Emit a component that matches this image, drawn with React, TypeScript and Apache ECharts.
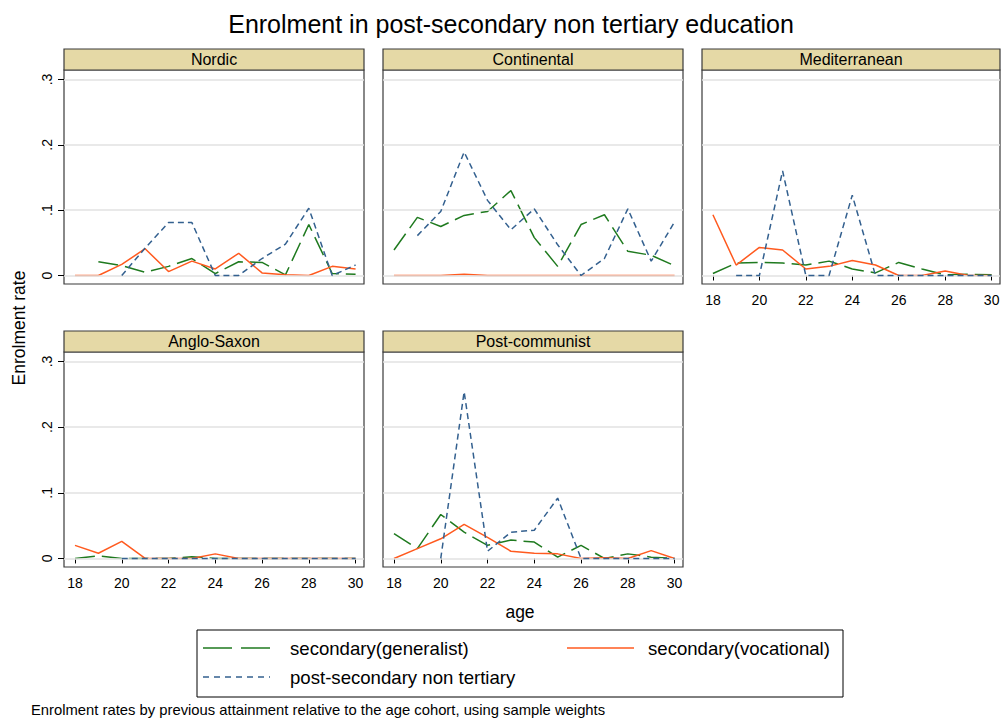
import React, { useEffect, useRef } from "react";
import * as echarts from "echarts";

const ages = [18, 19, 20, 21, 22, 23, 24, 25, 26, 27, 28, 29, 30];
const tickAges = [18, 20, 22, 24, 26, 28, 30];
const yTicks = [0, 0.1, 0.2, 0.3];
const regions = ["Nordic", "Continental", "Mediterranean", "Anglo-Saxon", "Post-communist"];
const seriesNames = ["secondary(generalist)", "secondary(vocational)", "post-secondary non tertiary"];

const nordicGen = [null, 0.021, 0.015, 0.005, 0.014, 0.026, 0.003, 0.021, 0.02, 0.001, 0.078, 0.003, 0.002];
const nordicVoc = [0, 0, 0.017, 0.041, 0.006, 0.022, 0.01, 0.034, 0.004, 0.001, 0, 0.014, 0.01];
const nordicPost = [null, null, 0, 0.042, 0.081, 0.081, 0, 0, 0.026, 0.048, 0.103, 0, 0.016];

const continentalGen = [0.039, 0.089, 0.075, 0.092, 0.098, 0.13, 0.058, 0.014, 0.078, 0.093, 0.037, 0.031, 0.015];
const continentalVoc = [0, 0, 0, 0.002, 0, 0, 0, 0, 0, 0, 0, 0, 0];
const continentalPost = [null, 0.061, 0.098, 0.189, 0.115, 0.07, 0.102, 0.047, 0, 0.026, 0.102, 0.022, 0.082];

const mediterraneanGen = [0.003, 0.019, 0.02, 0.019, 0.016, 0.022, 0.01, 0.004, 0.02, 0.01, 0.001, 0.002, 0.001];
const mediterraneanVoc = [0.093, 0.016, 0.043, 0.039, 0.01, 0.014, 0.023, 0.016, 0, 0, 0.007, 0, 0];
const mediterraneanPost = [null, 0, 0, 0.16, 0, 0, 0.123, 0, 0, 0, 0, 0, 0];

const angloGen = [0, 0.004, 0, 0, 0, 0.0025, 0, 0, 0, 0, 0, 0, 0];
const angloVoc = [0.02, 0.008, 0.026, 0, 0, 0, 0.007, 0, 0, 0, 0, 0, 0];
const angloPost = [null, null, 0, 0, 0, 0, 0, 0, 0, 0, 0, 0, 0];

const postcomGen = [0.038, 0.015, 0.067, 0.04, 0.02, 0.028, 0.025, 0.002, 0.02, 0, 0.007, 0.002, 0];
const postcomVoc = [0, 0.015, 0.03, 0.052, 0.032, 0.011, 0.008, 0.007, 0, 0.001, 0, 0.012, 0];
const postcomPost = [null, null, 0, 0.254, 0.011, 0.04, 0.043, 0.092, 0, 0, 0, 0, 0];

const regionData = [
  [nordicGen, nordicVoc, nordicPost],
  [continentalGen, continentalVoc, continentalPost],
  [mediterraneanGen, mediterraneanVoc, mediterraneanPost],
  [angloGen, angloVoc, angloPost],
  [postcomGen, postcomVoc, postcomPost],
];

const FONT = "'Liberation Sans', Arial, sans-serif";
const COLORS = ["#1f7a1f", "#ff5a1f", "#33608f"];
const DASHES: any[] = [[20, 7], "solid", [6, 4]];
const LEGEND_DASHES: any[] = [[29, 9], null, [6, 5]];

const panels = [
  { left: 64, top: 70, width: 300, height: 214 },
  { left: 383, top: 70, width: 300, height: 214 },
  { left: 702, top: 70, width: 298, height: 214 },
  { left: 64, top: 352, width: 300, height: 215 },
  { left: 383, top: 352, width: 300, height: 215 },
];
const showX = [false, false, true, true, true];
const showY = [true, false, false, true, false];

export default function App() {
  const ref = useRef<HTMLDivElement>(null);
  useEffect(() => {
    document.body.style.margin = "0";
    const chart = echarts.init(ref.current!, undefined, { renderer: "svg" });
    const grids: any[] = [];
    const xAxes: any[] = [];
    const yAxes: any[] = [];
    const series: any[] = [];
    const graphics: any[] = [];
    panels.forEach((p, i) => {
      grids.push({
        left: p.left, top: p.top, width: p.width, height: p.height,
        show: true, borderColor: "#3a3a3a", borderWidth: 1.2, backgroundColor: "#fff",
        containLabel: false,
      });
      xAxes.push({
        gridIndex: i, type: "value", min: 17.53, max: 30.36,
        axisLine: { show: false },
        axisTick: { show: showX[i], customValues: tickAges, length: 5, lineStyle: { color: "#000", width: 1 } },
        axisLabel: { show: showX[i], customValues: tickAges, fontSize: 14, color: "#000", fontFamily: FONT, margin: 9 },
        splitLine: { show: false },
      });
      yAxes.push({
        gridIndex: i, type: "value", min: -0.013, max: 0.3145,
        axisLine: { show: false },
        axisTick: { show: showY[i], customValues: yTicks, length: 6, lineStyle: { color: "#000", width: 1 } },
        axisLabel: {
          show: showY[i], customValues: yTicks, rotate: 90, fontSize: 14, color: "#000", fontFamily: FONT, margin: 10,
          formatter: (v: number) => (Math.abs(v) < 1e-9 ? "0" : "." + Math.round(v * 10)),
        },
        splitLine: { show: false },
      });
      series.push({
        type: "line", xAxisIndex: i, yAxisIndex: i, data: [], z: 1, silent: true,
        markLine: {
          silent: true, symbol: ["none", "none"], label: { show: false },
          lineStyle: { color: "#e2e2e2", width: 1.5, type: "solid" },
          data: yTicks.map((v) => ({ yAxis: v })),
        },
      });
      regionData[i].forEach((arr, k) => {
        series.push({
          name: seriesNames[k], type: "line", xAxisIndex: i, yAxisIndex: i, z: 3 + k,
          showSymbol: false, symbol: "none", connectNulls: false,
          lineStyle: { color: COLORS[k], width: 1.5, type: DASHES[k] },
          itemStyle: { color: COLORS[k] },
          data: ages.map((a, j) => [a, arr[j]]),
        });
      });
      graphics.push({
        type: "rect", shape: { x: p.left, y: p.top - 21, width: p.width, height: 21 },
        style: { fill: "#e5d9a6", stroke: "#3a3a3a", lineWidth: 1.2 }, z: 10,
      });
      graphics.push({
        type: "text", x: p.left + p.width / 2, y: p.top - 10.5, z: 11,
        style: { text: regions[i], font: `16px ${FONT}`, fill: "#000", textAlign: "center", textVerticalAlign: "middle" },
      });
    });
    // axis titles
    graphics.push({
      type: "text", x: 19, y: 328, rotation: Math.PI / 2, z: 11,
      style: { text: "Enrolment rate", font: `17.5px ${FONT}`, fill: "#000", textAlign: "center", textVerticalAlign: "middle" },
    });
    graphics.push({
      type: "text", x: 520, y: 612, z: 11,
      style: { text: "age", font: `17.5px ${FONT}`, fill: "#000", textAlign: "center", textVerticalAlign: "middle" },
    });
    // legend
    graphics.push({
      type: "rect", shape: { x: 197, y: 630, width: 646, height: 67 },
      style: { fill: "#fff", stroke: "#000", lineWidth: 1 }, z: 10,
    });
    const legendItems = [
      { x: 203, tx: 290, y: 648, k: 0 },
      { x: 567, tx: 648, y: 648, k: 1 },
      { x: 203, tx: 290, y: 677, k: 2 },
    ];
    legendItems.forEach((it) => {
      graphics.push({
        type: "line", shape: { x1: it.x, y1: it.y, x2: it.x + 67, y2: it.y }, z: 11,
        style: { stroke: COLORS[it.k], lineWidth: 1.5, lineDash: LEGEND_DASHES[it.k] },
      });
      graphics.push({
        type: "text", x: it.tx, y: it.y, z: 11,
        style: { text: seriesNames[it.k], font: `18.6px ${FONT}`, fill: "#000", textAlign: "left", textVerticalAlign: "middle" },
      });
    });
    graphics.push({
      type: "text", x: 31, y: 710, z: 11,
      style: { text: "Enrolment rates by previous attainment relative to the age cohort, using sample weights", font: `14.8px ${FONT}`, fill: "#000", textAlign: "left", textVerticalAlign: "middle" },
    });

    chart.setOption({
      animation: false,
      backgroundColor: "#fff",
      title: {
        text: "Enrolment in post-secondary non tertiary education",
        left: 506, top: 6, textAlign: "center",
        textStyle: { fontSize: 25, fontWeight: "normal", color: "#000", fontFamily: FONT },
      },
      grid: grids,
      xAxis: xAxes,
      yAxis: yAxes,
      series,
      graphic: { elements: graphics },
    });
    return () => chart.dispose();
  }, []);
  return <div ref={ref} style={{ width: 1004, height: 720 }} />;
}
